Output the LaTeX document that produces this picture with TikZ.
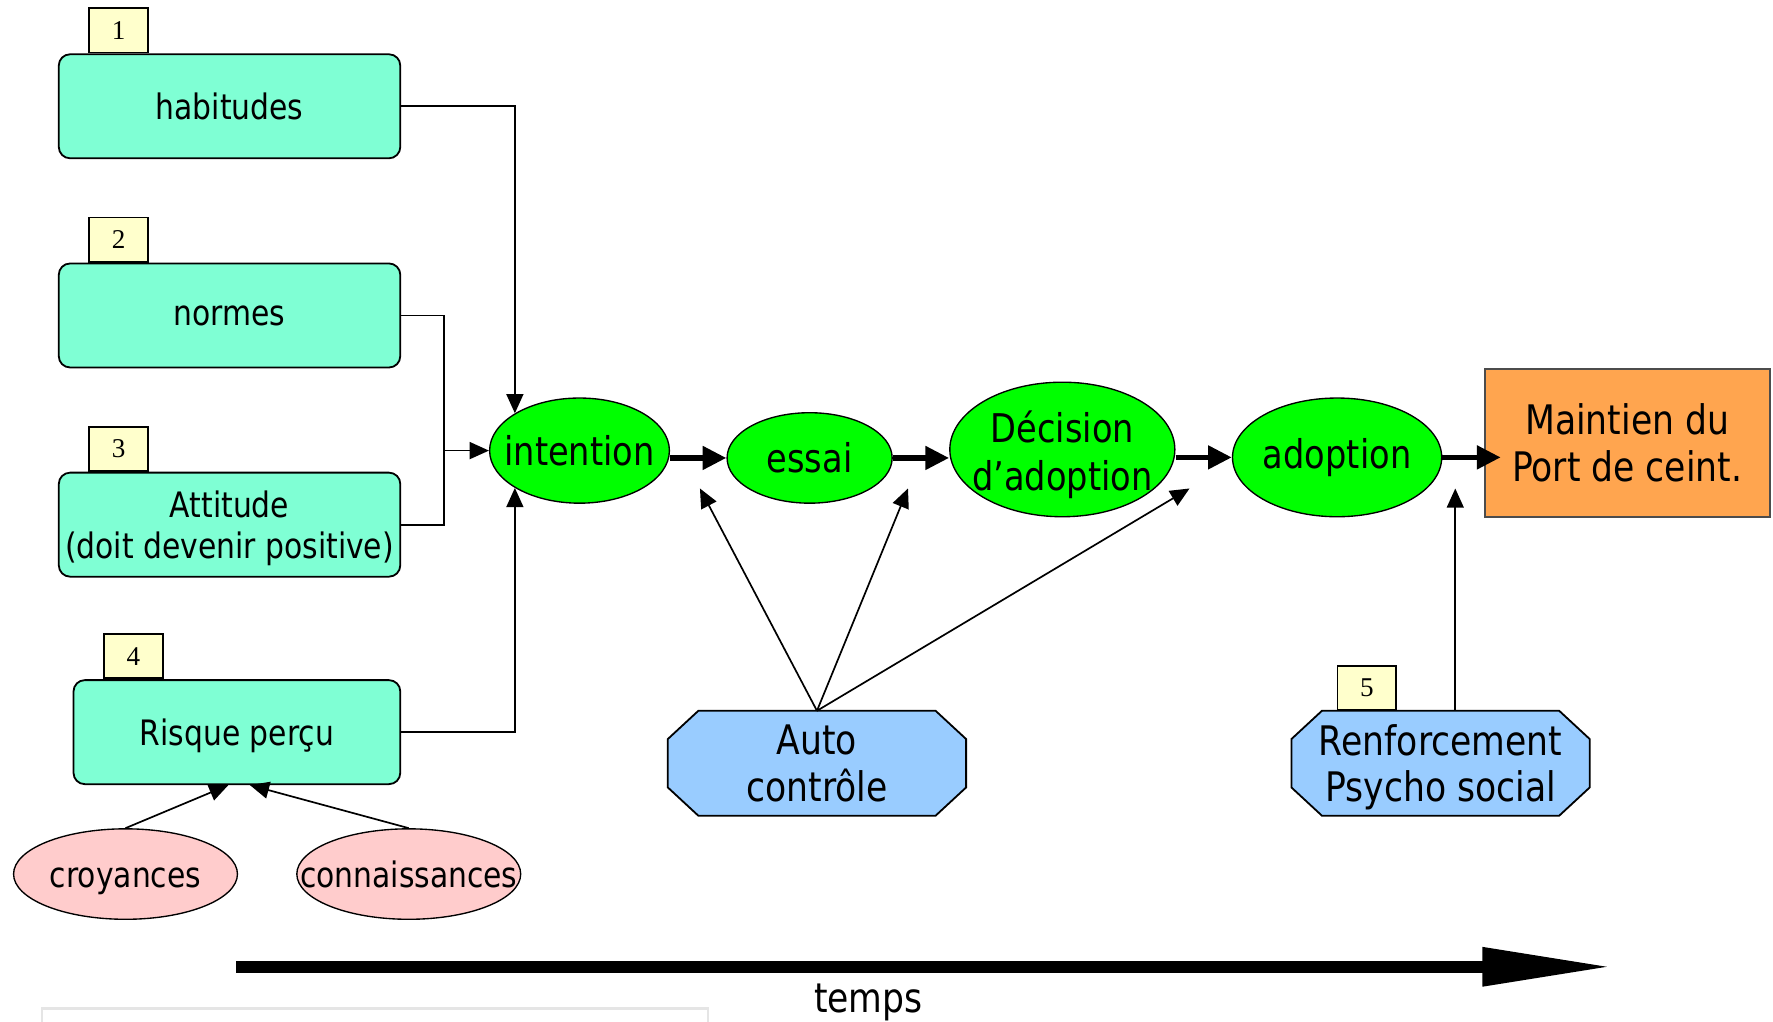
\documentclass[tikz,border=0pt]{standalone}
\usepackage{fontspec}
\setmainfont{DejaVu Sans}[FakeStretch=0.85]
\newfontfamily\numfont{Liberation Serif}
\usetikzlibrary{shapes.geometric,arrows.meta,backgrounds}
\definecolor{aqua}{HTML}{7FFFD4}
\definecolor{numyellow}{HTML}{FFFFCC}
\definecolor{ovalgreen}{HTML}{00FF00}
\definecolor{orangebox}{HTML}{FFA54F}
\definecolor{skyblue}{HTML}{99CCFF}
\definecolor{pinkish}{HTML}{FFCCCC}

\begin{document}
\begin{tikzpicture}[x=0.5pt,y=-0.5pt,
    factor/.style={draw, line width=0.8pt, rounded corners=5pt, fill=aqua, minimum width=151pt, minimum height=46pt, inner xsep=1pt, text depth=0pt, align=center, font=\fontsize{15.5}{18.5}\selectfont},
    numbox/.style={draw, line width=0.8pt, fill=numyellow, minimum width=26pt, minimum height=19.5pt, inner sep=0pt, anchor=south west, font=\numfont\fontsize{12}{14}\selectfont},
    stage/.style={ellipse, draw, line width=0.6pt, fill=ovalgreen, inner sep=0pt, font=\fontsize{17.5}{21}\selectfont},
    source/.style={ellipse, draw, line width=0.6pt, fill=pinkish, minimum width=99pt, minimum height=40pt, inner sep=0pt, text height=11.5pt, text depth=0pt, font=\fontsize{15.5}{18.5}\selectfont},
    agent/.style={minimum width=131.5pt, minimum height=46pt, inner sep=0pt, text depth=0pt, align=center, font=\fontsize{18}{20.5}\selectfont},
    octagon/.style={draw, line width=0.8pt, fill=skyblue},
    link/.style={line width=0.75pt, -{Triangle[length=8.5pt,width=7.5pt]}},
    flow/.style={line width=2.5pt, -{Triangle[length=10.5pt,width=10pt]}}]
  \useasboundingbox (0,0) rectangle (1568,903);
  % factors on the left
  \node[factor] (hab) at (203,94) {habitudes};
  \node[factor] (nor) at (203,279) {normes};
  \node[factor] (att) at (203,464) {Attitude\\(doit devenir positive)};
  \node[factor, minimum width=144.5pt] (ris) at (209.5,647.5) {Risque perçu};
  \foreach \b/\n in {hab/1,nor/2,att/3,ris/4}
    \node[numbox] (n\n) at ([xshift=13.5pt]\b.north west) {\n};
  \node[source] (cro) at (111,773) {\makebox[0pt]{croyances}};
  \node[source] (con) at (361.5,773) {\makebox[0pt]{connaissances}};
  % stages
  \node[stage, minimum width=79.5pt, minimum height=46.5pt] (int) at (512.5,398.5) {\makebox[0pt]{intention}};
  \node[stage, minimum width=73pt, minimum height=40pt] (ess) at (716,405) {\makebox[0pt]{essai}};
  \node[stage, minimum width=99.5pt, minimum height=59.5pt,
    label={[align=center, font=\fontsize{17.5}{21}\selectfont, yshift=-2.25pt]center:Décision\\d’adoption}] (dec) at (939.5,397.5) {};
  \node[stage, minimum width=92.5pt, minimum height=52.5pt] (ado) at (1182.5,404.5) {\makebox[0pt]{adoption}};
  \node[draw=black!70, line width=0.8pt, fill=orangebox, minimum width=126pt, minimum height=65.5pt, align=center, font=\fontsize{18}{21}\selectfont] (mai) at (1439,391.5) {Maintien du\\Port de ceint.};
  \node[agent] (aut) at (722.5,675) {Auto\\contrôle};
  \node[agent] (ren) at (1274,675) {Renforcement\\Psycho social};
  \begin{scope}[on background layer]
    \foreach \o in {aut,ren}
      \draw[octagon] ([xshift=13.5pt]\o.north west) -- ([xshift=-13.5pt]\o.north east) -- ([yshift=-12.5pt]\o.north east) -- ([yshift=12.5pt]\o.south east)
        -- ([xshift=-13.5pt]\o.south east) -- ([xshift=13.5pt]\o.south west) -- ([yshift=12.5pt]\o.south west) -- ([yshift=-12.5pt]\o.north west) -- cycle;
  \end{scope}
  \node[numbox] (n5) at ([xshift=-46pt]ren.north) {5};
  % connectors
  \coordinate (j) at ([xshift=-20pt]int.west);
  \draw[line width=0.75pt] (nor.east) -| (j) |- (att.east);
  \draw[link] (j) -- (int.west);
  \draw[link] (hab.east) -| (int.150);
  \draw[link] (ris.east) -| (int.210);
  \draw[link] (cro.north) -- ([xshift=-3.75pt]ris.south);
  \draw[link] (con.north) -- ([xshift=5.75pt]ris.south);
  \draw[flow] (int.east |- ess.west) -- (ess.west);
  \draw[flow] (ess.east) -- (dec.west |- ess.east);
  \draw[flow] (dec.east |- ado.west) -- (ado.west);
  \draw[flow, shorten >=-7.5pt] (ado.east) -- (mai.west |- ado.east);
  \coordinate (a1) at (619,432);
  \coordinate (a2) at (803,432);
  \coordinate (a3) at (1052,432);
  \coordinate (r1) at (1287,432);
  \foreach \t in {a1,a2,a3} \draw[link] (aut.north) -- (\t);
  \draw[link] (r1 |- ren.north) -- (r1);
  % time axis
  \coordinate (t0) at (209,855);
  \coordinate (t1) at (1426,855);
  \draw[line width=5.3pt, -{Triangle[length=57.5pt,width=16pt]}] (t0) -- (t1);
  \node[anchor=base, font=\fontsize{18}{21}\selectfont] (tps) at (768,895) {temps};
  \draw[black!10, line width=1pt] (37,892) rectangle (626,920);
\end{tikzpicture}
\end{document}
